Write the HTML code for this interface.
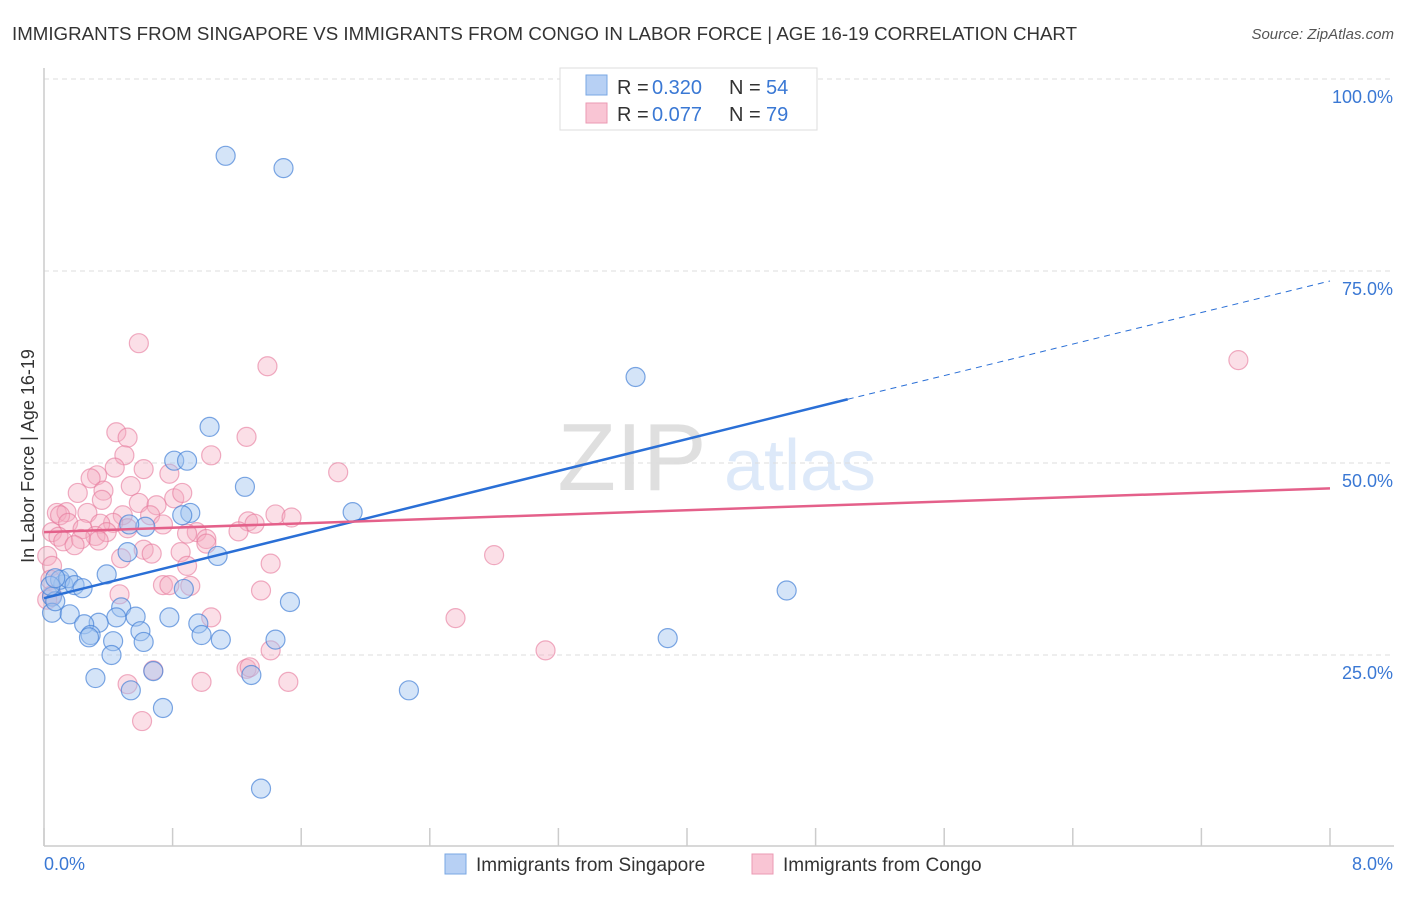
<!DOCTYPE html>
<html><head><meta charset="utf-8"><style>
body{margin:0;background:#fff;font-family:"Liberation Sans",sans-serif;}
svg text{font-family:"Liberation Sans",sans-serif;}
</style></head><body>
<svg id="chart" width="1406" height="892" xmlns="http://www.w3.org/2000/svg">
<text x="12" y="40" font-size="18.7" fill="#333" textLength="1065">IMMIGRANTS FROM SINGAPORE VS IMMIGRANTS FROM CONGO IN LABOR FORCE | AGE 16-19 CORRELATION CHART</text>
<text x="1394" y="39" font-size="15" fill="#555" font-style="italic" text-anchor="end">Source: ZipAtlas.com</text>
<g opacity="0.18">
<text x="632" y="490" font-size="96" font-family="Liberation Serif,serif" fill="#555" text-anchor="middle">ZIP</text>
<text x="800" y="490" font-size="72" fill="#4a8be0" text-anchor="middle">atlas</text>
</g>
<g id="grid"></g>
<line x1="44" y1="68" x2="44" y2="846" stroke="#ccc" stroke-width="1.5"/>
<line x1="44" y1="846" x2="1394" y2="846" stroke="#ccc" stroke-width="1.5"/>
<g id="xticks"></g>
<text x="44" y="870" font-size="18" fill="#3a78d4">0.0%</text>
<text x="1393" y="870" font-size="18" fill="#3a78d4" text-anchor="end">8.0%</text>
<text transform="translate(34,456) rotate(-90)" font-size="18" fill="#333" text-anchor="middle">In Labor Force | Age 16-19</text>
<g id="ylabels"></g>
<g id="pinkpts"></g>
<g id="bluepts"></g>
<g id="lines"></g>
<g>
<rect x="560" y="68" width="257" height="62" fill="#fff" stroke="#ddd"/>
<rect x="586" y="75" width="21" height="20" fill="#b7d0f4" stroke="#7aa7e3"/>
<rect x="586" y="103" width="21" height="20" fill="#f9c5d4" stroke="#eb9ab3"/>
<text x="617" y="94" font-size="20" fill="#333">R =</text>
<text x="652" y="94" font-size="20" fill="#3a78d4">0.320</text>
<text x="729" y="94" font-size="20" fill="#333">N =</text>
<text x="766" y="94" font-size="20" fill="#3a78d4">54</text>
<text x="617" y="121" font-size="20" fill="#333">R =</text>
<text x="652" y="121" font-size="20" fill="#3a78d4">0.077</text>
<text x="729" y="121" font-size="20" fill="#333">N =</text>
<text x="766" y="121" font-size="20" fill="#3a78d4">79</text>
</g>
<g>
<rect x="445" y="854" width="21" height="20" fill="#b7d0f4" stroke="#7aa7e3"/>
<text x="476" y="871" font-size="19" fill="#333">Immigrants from Singapore</text>
<rect x="752" y="854" width="21" height="20" fill="#f9c5d4" stroke="#eb9ab3"/>
<text x="783" y="871" font-size="19" fill="#333">Immigrants from Congo</text>
</g>
</svg>
<script>
const yTicks=[25,50,75,100];
const yTickLabels=["25.0%","50.0%","75.0%","100.0%"];
const xTicks=[0,0.8,1.6,2.4,3.2,4.0,4.8,5.6,6.4,7.2,8.0];
const blueX=[3.65,1.13,1.49,3.68,1.03,0.81,0.89,1.25,1.92,0.91,0.86,0.63,0.53,0.52,1.08,4.62,0.39,0.87,1.53,0.12,0.10,0.15,0.19,0.24,0.05,0.05,0.16,0.07,0.48,0.57,0.45,0.34,0.25,0.78,0.96,0.60,0.29,0.28,0.43,0.62,0.98,1.10,1.44,3.88,0.42,0.68,1.29,0.32,0.54,2.27,0.74,1.35,0.04,0.07];
const blueY=[99.9,90.0,88.4,61.2,54.7,50.3,50.3,46.9,43.6,43.5,43.2,41.7,42.0,38.4,37.9,33.4,35.5,33.6,31.9,34.2,34.8,35.0,34.1,33.7,32.6,30.5,30.3,32.0,31.2,30.0,29.9,29.2,29.0,29.9,29.1,28.1,27.6,27.3,26.8,26.7,27.6,27.0,27.0,27.2,25.0,22.9,22.4,22.0,20.4,20.4,18.1,7.6,34.0,35.0];
const pinkX=[0.59,1.39,0.45,0.52,1.26,1.04,0.50,0.62,1.83,0.44,0.78,0.33,0.29,0.54,0.21,0.37,0.36,0.81,0.59,0.86,0.70,0.66,0.27,0.08,0.14,0.10,0.49,1.27,1.44,1.54,1.31,0.74,0.15,0.43,0.35,0.24,0.32,0.05,0.09,0.39,0.52,0.95,0.89,1.21,1.01,0.12,0.23,0.34,0.19,1.01,0.62,0.67,0.85,0.02,0.48,0.05,2.80,1.41,0.89,0.91,0.74,0.78,0.47,1.35,1.04,2.56,0.05,0.02,0.04,3.12,1.41,1.26,0.68,0.52,0.98,1.52,0.61,7.43,1.28];
const pinkY=[65.6,62.6,54.0,53.3,53.4,51.0,51.0,49.2,48.8,49.4,48.6,48.4,48.0,47.0,46.1,46.4,45.2,45.4,44.8,46.1,44.5,43.2,43.5,43.5,43.6,43.2,43.2,42.4,43.3,42.9,42.1,42.0,42.2,42.2,42.1,41.4,40.5,41.0,40.4,41.0,41.5,41.0,40.8,41.1,40.1,39.8,40.1,39.9,39.3,39.5,38.7,38.2,38.4,37.9,37.6,36.6,38.0,36.9,36.6,34.0,34.1,34.1,32.9,33.4,29.9,29.8,32.8,32.2,34.8,25.6,25.6,23.2,23.0,21.2,21.5,21.5,16.4,63.4,23.4];
const blueTrend=[[0,32.4],[5.0,58.3],[8.0,73.7]];
const pinkTrend=[[0,41.0],[8.0,46.7]];
const X=v=>44+v*160.75, Y=v=>847-v*7.68;
const NS="http://www.w3.org/2000/svg";
function mk(t,a,p){const e=document.createElementNS(NS,t);for(const k in a)e.setAttribute(k,a[k]);p.appendChild(e);return e;}
const grid=document.getElementById('grid'),yl=document.getElementById('ylabels');
yTicks.forEach((t,i)=>{
 const l=mk('line',{x1:44,x2:1394,y1:Y(t),y2:Y(t),stroke:'#ddd','stroke-dasharray':'5,4'},grid);
 
 
 const tx=mk('text',{x:1393,y:Y(t)+24,'font-size':18,fill:'#3a78d4','text-anchor':'end'},yl);
 tx.textContent=yTickLabels[i];
 
 
});
const xt=document.getElementById('xticks');
xTicks.forEach(t=>{const l=mk('line',{x1:X(t),x2:X(t),y1:828,y2:846,stroke:'#ccc','stroke-width':1.5},xt);
 
 });
const pp=document.getElementById('pinkpts');
pinkX.forEach((x,i)=>{const c=mk('circle',{cx:X(x),cy:Y(pinkY[i]),r:9.5,fill:'rgba(244,170,192,0.38)',stroke:'rgba(230,120,155,0.6)','stroke-width':1.2},pp);
 
 });
const bp=document.getElementById('bluepts');
blueX.forEach((x,i)=>{const c=mk('circle',{cx:X(x),cy:Y(blueY[i]),r:9.5,fill:'rgba(160,196,240,0.45)',stroke:'rgba(70,130,215,0.7)','stroke-width':1.2},bp);
 
 });
const lg=document.getElementById('lines');
const b1=mk('line',{x1:X(blueTrend[0][0]),y1:Y(blueTrend[0][1]),x2:X(blueTrend[1][0]),y2:Y(blueTrend[1][1]),stroke:'#2a6fd6','stroke-width':2.5},lg);


const b2=mk('line',{x1:X(blueTrend[1][0]),y1:Y(blueTrend[1][1]),x2:X(blueTrend[2][0]),y2:Y(blueTrend[2][1]),stroke:'#2a6fd6','stroke-width':1,'stroke-dasharray':'6,5'},lg);


const p1=mk('line',{x1:X(pinkTrend[0][0]),y1:Y(pinkTrend[0][1]),x2:X(pinkTrend[1][0]),y2:Y(pinkTrend[1][1]),stroke:'#e4608a','stroke-width':2.5},lg);


</script>
</body></html>
